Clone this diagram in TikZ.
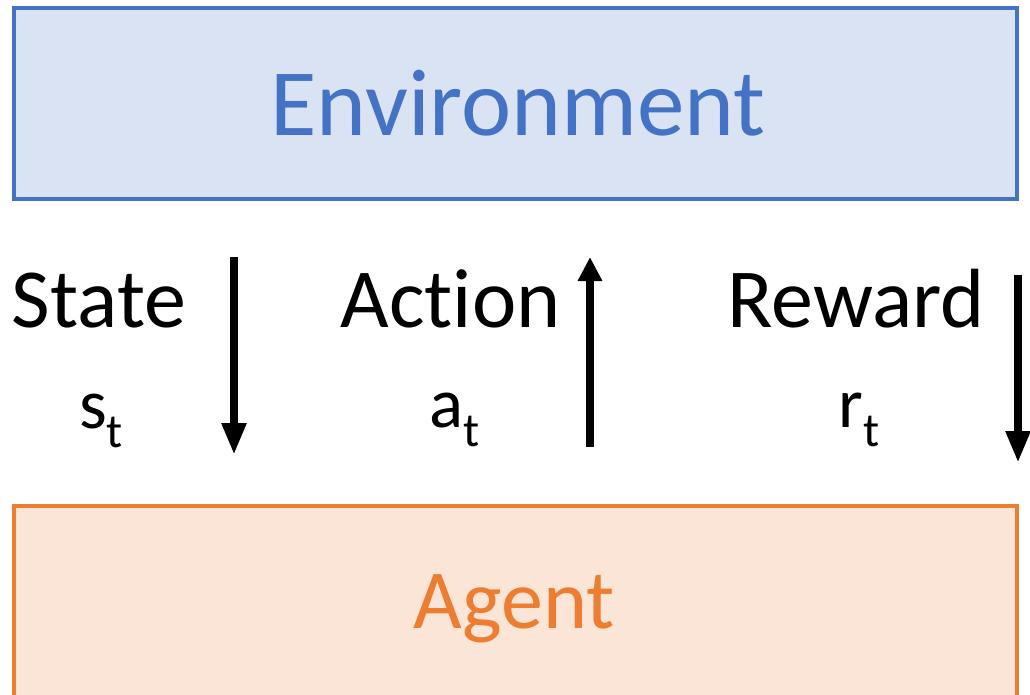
\documentclass[tikz,border=0pt]{standalone}
\usepackage{fontspec}
\setmainfont{Carlito}[Ligatures=NoCommon]
\usetikzlibrary{arrows.meta}

\definecolor{envblue}{HTML}{4472C4}
\definecolor{envfill}{HTML}{DAE3F3}
\definecolor{agentorange}{HTML}{ED7D31}
\definecolor{agentfill}{HTML}{FBE5D6}

\tikzset{
  panel/.style={rectangle, line width=4pt, inner sep=0pt,
    minimum width=1003pt, minimum height=191pt},
  bigtext/.style={anchor=base, inner sep=0pt, font=\fontsize{95}{95}\selectfont},
  midtext/.style={anchor=base, inner sep=0pt, font=\fontsize{84}{84}\selectfont},
  symtext/.style={anchor=base, inner sep=0pt, font=\fontsize{71}{71}\selectfont},
  flow/.style={line width=8pt, -{Triangle[length=32pt, width=23pt]}},
  flowshort/.style={line width=8pt, -{Triangle[length=24pt, width=23pt]}},
}
\newcommand{\tsub}{\raisebox{-19pt}{\fontsize{48}{48}\selectfont t}}

\begin{document}
\begin{tikzpicture}[x=1pt, y=-1pt]
  \useasboundingbox (0,0) rectangle (1030,695);

  % the two panels
  \node[panel, draw=envblue, fill=envfill] (env) at (515.5,103.5) {};
  \node[panel, draw=agentorange, fill=agentfill] (agent) at (515.5,601.5) {};
  \node[bigtext, text=envblue] (envlabel) at (518,136) {Environment};
  \node[midtext, text=agentorange] (agentlabel) at (514,628) {Agent};

  % signal labels
  \node[midtext] (state) at (99,327) {State};
  \node[symtext] (st) at (101,428) {s\tsub};
  \node[midtext] (action) at (450.5,327) {Action};
  \node[symtext] (at) at (455,427) {a\tsub};
  \node[midtext] (reward) at (856,327) {Reward};
  \node[symtext] (rt) at (859,427) {r\tsub};

  % arrow end points
  \coordinate (s1) at (234,257);
  \coordinate (s2) at (234,455);
  \coordinate (a1) at (590,447);
  \coordinate (a2) at (590,257);
  \coordinate (r1) at (1018,275);
  \coordinate (r2) at (1018,463);

  \draw[flow] (s1) -- (s2);
  \draw[flowshort] (a1) -- (a2);
  \draw[flow] (r1) -- (r2);
\end{tikzpicture}
\end{document}
